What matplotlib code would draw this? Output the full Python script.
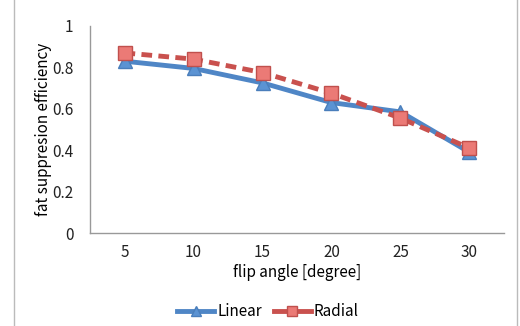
import matplotlib
matplotlib.use("Agg")
import matplotlib.pyplot as plt
from matplotlib.lines import Line2D

flip_angles = ["5", "10", "15", "20", "25", "30"]
linear = [0.83, 0.795, 0.725, 0.63, 0.585, 0.39]
radial = [0.87, 0.84, 0.775, 0.675, 0.555, 0.41]
yticks = [0, 0.2, 0.4, 0.6, 0.8, 1]
ytick_labels = ["0", "0.2", "0.4", "0.6", "0.8", "1"]
series_names = ["Linear", "Radial"]

plt.rcParams['font.family'] = ['Noto Sans CJK JP', 'DejaVu Sans']

fig = plt.figure(figsize=(5.2, 3.26), dpi=100)
ax = fig.add_axes([90/520, 1 - 233/326, (504-90)/520, (233-26)/326])

x = list(range(len(flip_angles)))
ax.plot(x, linear, color="#4F86C6", lw=3.5, marker="^", ms=10,
        mfc="#5B93D3", mec="#4A7EBB", zorder=3)
ax.plot(x, radial, color="#C9514E", lw=3.5, ls=(0, (2.2, 1.3)), marker="s", ms=10,
        mfc="#EB7A76", mec="#C0504D", zorder=4)

ax.set_xlim(-0.5, len(flip_angles) - 0.5)
ax.set_ylim(0, 1)
ax.set_yticks(yticks)
ax.set_yticklabels(ytick_labels)
ax.set_xticks(x)
ax.set_xticklabels(flip_angles)
ax.tick_params(length=0, labelsize=11, colors="#222222")
ax.tick_params(axis="y", pad=12)
ax.tick_params(axis="x", pad=8)
for s in ["top", "right"]:
    ax.spines[s].set_visible(False)
for s in ["left", "bottom"]:
    ax.spines[s].set_color("#999999")
    ax.spines[s].set_linewidth(1)

ax.set_xlabel("flip angle [degree]", fontsize=11, labelpad=2)
ax.set_ylabel("fat suppresion efficiency", fontsize=11, labelpad=0)

handles = [
    Line2D([], [], color="#4F86C6", lw=3.5, marker="^", ms=7, mfc="#5B93D3", mec="#4A7EBB"),
    Line2D([], [], color="#C9514E", lw=3.5, marker="s", ms=7, mfc="#EB7A76", mec="#C0504D"),
]
fig.legend(handles, series_names, loc="center", bbox_to_anchor=(268/520, 1 - 312/326), ncol=2,
           frameon=False, fontsize=11, handlelength=2.4, columnspacing=0.8, handletextpad=0.2)

fig.add_artist(Line2D([14/520, 14/520], [0, 1], transform=fig.transFigure, color="#BBBBBB", lw=1))
fig.add_artist(Line2D([517/520, 517/520], [0, 1], transform=fig.transFigure, color="#BBBBBB", lw=1))

fig.savefig("out.png", dpi=100)
